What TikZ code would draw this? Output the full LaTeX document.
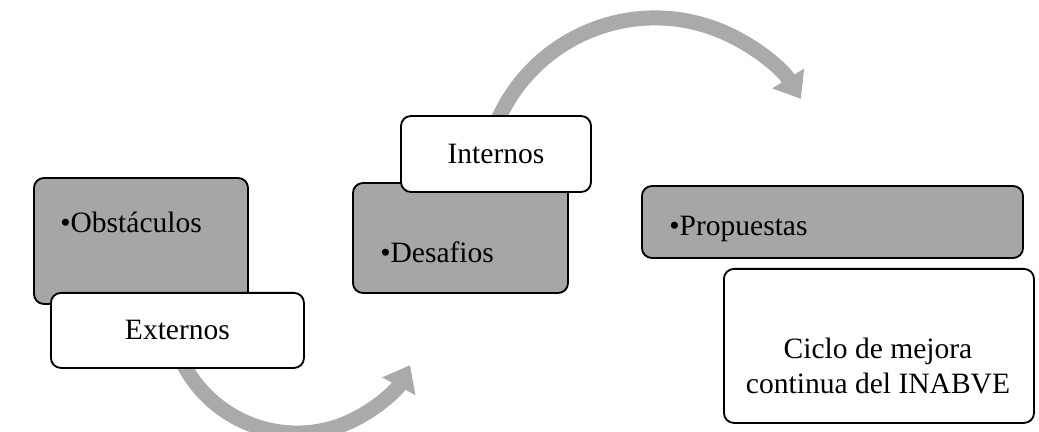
\documentclass[tikz,border=0pt]{standalone}
\usepackage{fontspec}
\setmainfont{Liberation Serif}
\usetikzlibrary{arrows.meta,positioning,calc}
\definecolor{boxgray}{RGB}{166,166,166}
\definecolor{arrowgray}{RGB}{170,170,170}
\begin{document}
\begin{tikzpicture}[x=0.025cm,y=0.025cm,
                    gray node/.style={rectangle,rounded corners=0.25cm,draw,line width=1.3pt,fill=boxgray},
                    white node/.style={rectangle,rounded corners=0.25cm,draw,line width=1.3pt,fill=white,
                                       font=\fontsize{21}{25}\selectfont,align=center},
                    box text/.style={font=\fontsize{21}{25}\selectfont,inner sep=0pt,align=center},
                    big arrow/.style={draw=arrowgray,line width=0.375cm,
                                      -{Triangle[width=0.9cm,length=0.6cm]}}]
  \useasboundingbox (0,0) rectangle (1039,-432);
  %ciclo%
  \coordinate (low) at (297,-305);
  \coordinate (up) at (655,-190);
  \draw[big arrow] ($(low)+(205:3.2cm)$) arc[start angle=205,end angle=332,radius=3.2cm];
  \draw[big arrow] ($(up)+(158:4.3cm)$) arc[start angle=158,end angle=32,radius=4.3cm];

  \node[gray node,minimum width=5.35cm,minimum height=3.15cm] (obs) at (141,-241) {};
  \node[white node,minimum width=6.325cm,minimum height=1.875cm,anchor=north west] (ext)
       at (50,-292) {Externos};
  \node[box text,anchor=west] (obst) at (60,-222) {•Obstáculos};

  \node[gray node,minimum width=5.375cm,minimum height=2.75cm] (des) at (460.5,-238) {};
  \node[box text,anchor=west] (dest) at (380,-252) {•Desafios};
  \node[white node,minimum width=4.75cm,minimum height=1.9cm] (int) at (496,-154) {Internos};

  \node[gray node,minimum width=9.525cm,minimum height=1.8cm] (pro) at (832.5,-222) {};
  \node[box text,anchor=west] (prot) at (669,-229) {•Propuestas};
  \node[white node,minimum width=7.75cm,minimum height=3.85cm,anchor=north west] (cic)
       at (723,-268) {};
  \node[box text] (cict) at (878,-366) {Ciclo de mejora\\continua del INABVE};
\end{tikzpicture}
\end{document}
